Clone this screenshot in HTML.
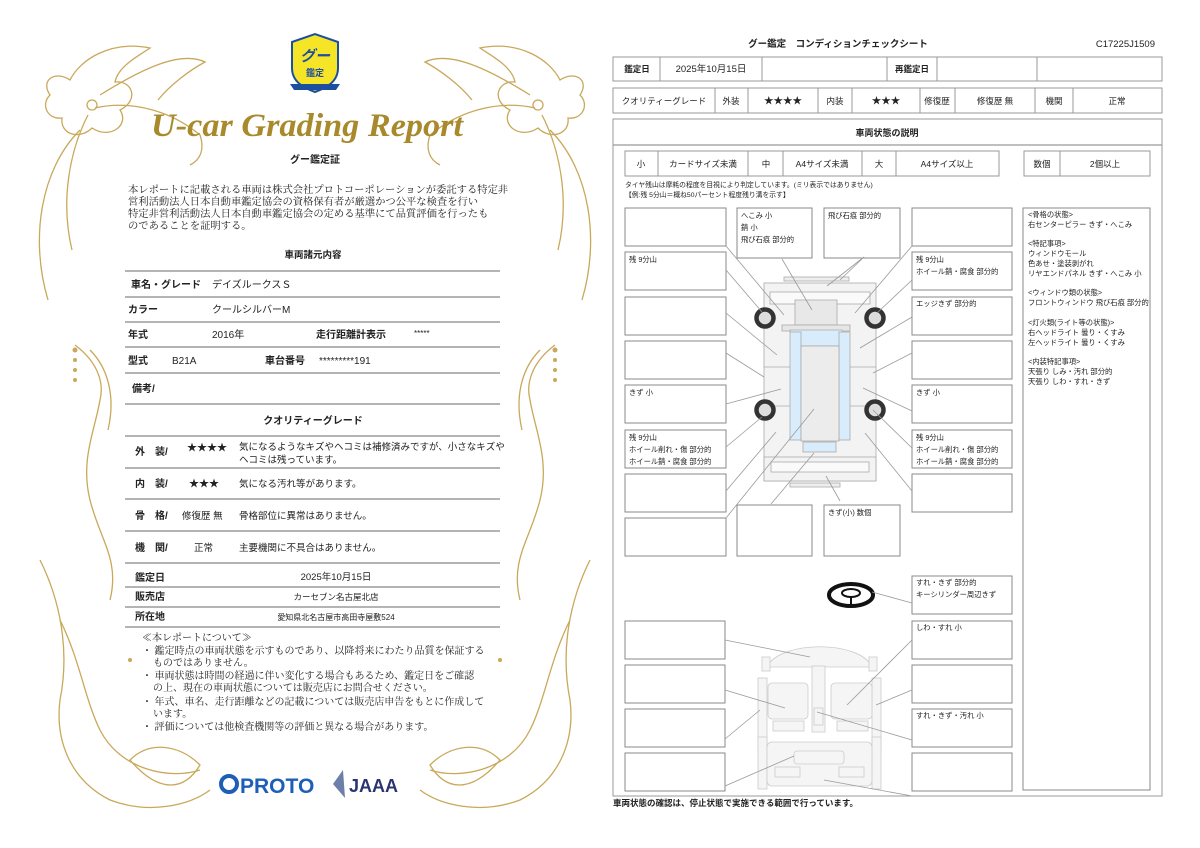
<!DOCTYPE html>
<html><head><meta charset="utf-8"><style>
html,body{margin:0;padding:0;background:#fff;}
svg{display:block}
text{font-family:"Liberation Sans","Noto Sans CJK JP",sans-serif;fill:#222}
.m{font-family:"Liberation Serif","Noto Serif CJK JP","Noto Serif CJK SC",serif}
.b{fill:#fff;stroke:#8a8a8a;stroke-width:1}
.t{fill:#fff;stroke:#999;stroke-width:1}
.ld{stroke:#9a9a9a;stroke-width:0.8;fill:none}
.g{stroke:#c9a85a;stroke-width:1.3;fill:none}
</style></head><body>
<svg width="1200" height="848" viewBox="0 0 1200 848" xmlns="http://www.w3.org/2000/svg">
<rect width="1200" height="848" fill="#fff"/>

<g class="g">
<path d="M150 48 C110 40 80 60 70 80 C55 70 40 80 50 95 C40 105 48 120 62 118 C60 135 80 140 92 128 C110 140 130 125 120 110 C140 100 132 80 115 82 C118 66 140 55 150 48Z"/>
<path d="M100 95 C140 70 180 50 205 62 C190 70 170 85 158 100"/>
<path d="M95 108 C130 100 170 110 200 135 C205 150 200 160 190 165"/>
<path d="M88 115 C70 150 60 200 72 250"/>
<path d="M80 130 C40 170 30 240 48 300"/>
<circle cx="92" cy="105" r="5"/>
<path d="M480 48 C520 40 550 60 560 80 C575 70 590 80 580 95 C590 105 582 120 568 118 C570 135 550 140 538 128 C520 140 500 125 510 110 C490 100 498 80 515 82 C512 66 490 55 480 48Z"/>
<path d="M530 95 C490 70 450 50 425 62 C440 70 460 85 472 100"/>
<path d="M535 108 C500 100 460 110 430 135 C425 150 430 160 440 165"/>
<path d="M542 115 C560 150 570 200 558 250"/>
<path d="M550 130 C590 170 600 240 582 300"/>
<circle cx="538" cy="105" r="5"/>
<path d="M75 345 C95 360 105 380 100 400 C95 430 80 460 90 500 C100 540 120 560 110 600"/>
<path d="M90 350 C110 370 115 400 108 430"/>
<path d="M555 345 C535 360 525 380 530 400 C535 430 550 460 540 500 C530 540 510 560 520 600"/>
<path d="M540 350 C520 370 515 400 522 430"/>
<path d="M40 560 C60 600 70 650 60 700 C55 740 70 780 110 800 C150 815 190 805 210 790"/>
<path d="M60 620 C80 660 85 700 100 730 C120 770 170 780 200 770"/>
<path d="M590 560 C570 600 560 650 570 700 C575 740 560 780 520 800 C480 815 440 805 420 790"/>
<path d="M570 620 C550 660 545 700 530 730 C510 770 460 780 430 770"/>
<path d="M130 760 C150 740 180 745 200 765 C185 790 160 795 130 760Z"/>
<path d="M500 760 C480 740 450 745 430 765 C445 790 470 795 500 760Z"/>
</g>
<g fill="#c9a85a">
<circle cx="75" cy="350" r="2.5"/><circle cx="75" cy="360" r="2"/><circle cx="75" cy="370" r="2"/><circle cx="75" cy="380" r="2"/>
<circle cx="555" cy="350" r="2.5"/><circle cx="555" cy="360" r="2"/><circle cx="555" cy="370" r="2"/><circle cx="555" cy="380" r="2"/>
<circle cx="130" cy="660" r="2"/><circle cx="500" cy="660" r="2"/>
</g>

<path d="M292 42 L315 34 L338 42 L338 68 C338 82 326 88 315 92 C304 88 292 82 292 68Z" fill="#f6e526" stroke="#1d4fa0" stroke-width="2"/>
<text x="315" y="61" text-anchor="middle" font-size="15" font-weight="bold" style="fill:#1d4fa0" font-style="italic">グー</text>
<text x="315" y="76" text-anchor="middle" font-size="9" font-weight="bold" style="fill:#1d4fa0">鑑定</text>
<path d="M290 84 L340 84 L336 90 L294 90Z" fill="#1d4fa0"/>

<text x="307" y="136" text-anchor="middle" font-size="33" font-style="italic" font-weight="bold" textLength="312" lengthAdjust="spacingAndGlyphs" style="fill:#a88a2c;font-family:'Liberation Serif',serif">U-car Grading Report</text>
<text x="315" y="163" text-anchor="middle" font-size="10" font-weight="bold">グー鑑定証</text>
<g font-size="10.3">
<text x="128" y="193" class="m">本レポートに記載される車両は株式会社プロトコーポレーションが委託する特定非</text>
<text x="128" y="205" class="m">営利活動法人日本自動車鑑定協会の資格保有者が厳選かつ公平な検査を行い</text>
<text x="128" y="217" class="m">特定非営利活動法人日本自動車鑑定協会の定める基準にて品質評価を行ったも</text>
<text x="128" y="229" class="m">のであることを証明する。</text>
</g>
<text x="313" y="258" text-anchor="middle" font-size="9.5" font-weight="bold">車両諸元内容</text>
<g stroke="#888" stroke-width="1.2">
<line x1="125" y1="271" x2="500" y2="271"/><line x1="125" y1="297" x2="500" y2="297"/>
<line x1="125" y1="322" x2="500" y2="322"/><line x1="125" y1="347" x2="500" y2="347"/>
<line x1="125" y1="373" x2="500" y2="373"/><line x1="125" y1="404" x2="500" y2="404"/>
<line x1="125" y1="436" x2="500" y2="436"/><line x1="125" y1="468" x2="500" y2="468"/>
<line x1="125" y1="499" x2="500" y2="499"/><line x1="125" y1="531" x2="500" y2="531"/>
<line x1="125" y1="563" x2="500" y2="563"/><line x1="125" y1="587" x2="500" y2="587"/>
<line x1="125" y1="607" x2="500" y2="607"/><line x1="125" y1="627" x2="500" y2="627"/>
</g>
<g font-size="10">
<text x="131" y="288" font-weight="bold">車名・グレード</text><text x="212" y="288">デイズルークスＳ</text>
<text x="128" y="313" font-weight="bold">カラー</text><text x="212" y="313">クールシルバーM</text>
<text x="128" y="338" font-weight="bold">年式</text><text x="212" y="338">2016年</text><text x="316" y="338" font-weight="bold">走行距離計表示</text><text x="414" y="336" font-size="8">*****</text>
<text x="128" y="364" font-weight="bold">型式</text><text x="172" y="364">B21A</text><text x="265" y="364" font-weight="bold">車台番号</text><text x="319" y="364">*********191</text>
<text x="132" y="392" font-weight="bold">備考/</text>
<text x="313" y="424" text-anchor="middle" font-weight="bold">クオリティーグレード</text>
<text x="135" y="455" font-weight="bold">外　装/</text><text x="187" y="451">★★★★</text>
<text x="239" y="450" font-size="9.5">気になるようなキズやヘコミは補修済みですが、小さなキズや</text>
<text x="239" y="463" font-size="9.5">ヘコミは残っています。</text>
<text x="135" y="487" font-weight="bold">内　装/</text><text x="189" y="487">★★★</text><text x="239" y="487" font-size="9.5">気になる汚れ等があります。</text>
<text x="135" y="519" font-weight="bold">骨　格/</text><text x="182" y="519" font-size="9.5">修復歴 無</text><text x="239" y="519" font-size="9.5">骨格部位に異常はありません。</text>
<text x="135" y="551" font-weight="bold">機　関/</text><text x="194" y="551" font-size="9.5">正常</text><text x="239" y="551" font-size="9.5">主要機関に不具合はありません。</text>
<text x="135" y="581" font-weight="bold">鑑定日</text><text x="336" y="580" text-anchor="middle" font-size="9.5">2025年10月15日</text>
<text x="135" y="600" font-weight="bold">販売店</text><text x="336" y="600" text-anchor="middle" font-size="8.5">カーセブン名古屋北店</text>
<text x="135" y="620" font-weight="bold">所在地</text><text x="336" y="620" text-anchor="middle" font-size="8">愛知県北名古屋市高田寺屋敷524</text>
</g>
<g font-size="10">
<text x="142" y="641" class="m">≪本レポートについて≫</text>
<text x="142" y="654" class="m">・ 鑑定時点の車両状態を示すものであり、以降将来にわたり品質を保証する</text>
<text x="153" y="666" class="m">ものではありません。</text>
<text x="142" y="679" class="m">・ 車両状態は時間の経過に伴い変化する場合もあるため、鑑定日をご確認</text>
<text x="153" y="691" class="m">の上、現在の車両状態については販売店にお問合せください。</text>
<text x="142" y="705" class="m">・ 年式、車名、走行距離などの記載については販売店申告をもとに作成して</text>
<text x="153" y="717" class="m">います。</text>
<text x="142" y="730" class="m">・ 評価については他検査機関等の評価と異なる場合があります。</text>
</g>
<circle cx="229" cy="784" r="8" fill="none" stroke="#1d5fb8" stroke-width="4"/>
<text x="240" y="793" font-size="21" font-weight="bold" style="fill:#1d5fb8">PROTO</text>
<path d="M333 784 L343 770 L345 798Z" fill="#6b7fa8"/>
<text x="349" y="792" font-size="18" font-weight="bold" style="fill:#2a3470">JAAA</text>

<text x="838" y="47" text-anchor="middle" font-size="9.5" font-weight="bold">グー鑑定　コンディションチェックシート</text>
<text x="1155" y="47" text-anchor="end" font-size="9.5">C17225J1509</text>

<rect x="613" y="57" width="549" height="24" class="t" stroke-width="1.5"/>
<g stroke="#999"><line x1="660" y1="57" x2="660" y2="81"/><line x1="762" y1="57" x2="762" y2="81"/><line x1="887" y1="57" x2="887" y2="81"/><line x1="937" y1="57" x2="937" y2="81"/><line x1="1037" y1="57" x2="1037" y2="81"/></g>
<g font-size="8.5"><text x="637" y="72" text-anchor="middle" font-weight="bold">鑑定日</text><text x="711" y="72" text-anchor="middle" font-size="9.5">2025年10月15日</text><text x="912" y="72" text-anchor="middle" font-weight="bold">再鑑定日</text></g>

<rect x="613" y="88" width="549" height="25" class="t" stroke-width="1.5"/>
<g stroke="#999"><line x1="715" y1="88" x2="715" y2="113"/><line x1="748" y1="88" x2="748" y2="113"/><line x1="818" y1="88" x2="818" y2="113"/><line x1="852" y1="88" x2="852" y2="113"/><line x1="920" y1="88" x2="920" y2="113"/><line x1="955" y1="88" x2="955" y2="113"/><line x1="1035" y1="88" x2="1035" y2="113"/><line x1="1073" y1="88" x2="1073" y2="113"/></g>
<g font-size="8.5" text-anchor="middle"><text x="664" y="104">クオリティーグレード</text><text x="731" y="104">外装</text><text x="783" y="104" font-size="9.5">★★★★</text><text x="835" y="104">内装</text><text x="886" y="104" font-size="9.5">★★★</text><text x="937" y="104">修復歴</text><text x="995" y="104">修復歴 無</text><text x="1054" y="104">機関</text><text x="1117" y="104">正常</text></g>

<rect x="613" y="119" width="549" height="677" class="t" stroke-width="1.5"/>
<line x1="613" y1="145" x2="1162" y2="145" stroke="#999" stroke-width="1.2"/>
<text x="887" y="136" text-anchor="middle" font-size="9" font-weight="bold">車両状態の説明</text>

<rect x="625" y="151" width="374" height="25" class="t"/>
<g stroke="#999"><line x1="658" y1="151" x2="658" y2="176"/><line x1="748" y1="151" x2="748" y2="176"/><line x1="783" y1="151" x2="783" y2="176"/><line x1="862" y1="151" x2="862" y2="176"/><line x1="896" y1="151" x2="896" y2="176"/></g>
<rect x="1024" y="151" width="126" height="25" class="t"/>
<line x1="1060" y1="151" x2="1060" y2="176" stroke="#999"/>
<g font-size="8.5" text-anchor="middle"><text x="641" y="167">小</text><text x="703" y="167">カードサイズ未満</text><text x="766" y="167">中</text><text x="822" y="167">A4サイズ未満</text><text x="879" y="167">大</text><text x="947" y="167">A4サイズ以上</text><text x="1042" y="167">数個</text><text x="1105" y="167">2個以上</text></g>
<text x="625" y="187" font-size="6.8">タイヤ残山は摩耗の程度を目視により判定しています。(ミリ表示ではありません)</text>
<text x="625" y="197" font-size="6.8">【例:残 5分山＝概ね50パーセント程度残り溝を示す】</text>

<g>
<rect x="625" y="208" width="101" height="38" class="b"/><rect x="625" y="252" width="101" height="38" class="b"/>
<rect x="625" y="297" width="101" height="38" class="b"/><rect x="625" y="341" width="101" height="38" class="b"/>
<rect x="625" y="385" width="101" height="38" class="b"/><rect x="625" y="430" width="101" height="38" class="b"/>
<rect x="625" y="474" width="101" height="38" class="b"/><rect x="625" y="518" width="101" height="38" class="b"/>
<rect x="737" y="208" width="75" height="50" class="b"/><rect x="824" y="208" width="76" height="50" class="b"/>
<rect x="737" y="505" width="75" height="51" class="b"/><rect x="824" y="505" width="76" height="51" class="b"/>
<rect x="912" y="208" width="100" height="38" class="b"/><rect x="912" y="252" width="100" height="38" class="b"/>
<rect x="912" y="297" width="100" height="38" class="b"/><rect x="912" y="341" width="100" height="38" class="b"/>
<rect x="912" y="385" width="100" height="38" class="b"/><rect x="912" y="430" width="100" height="38" class="b"/>
<rect x="912" y="474" width="100" height="38" class="b"/>
<rect x="1023" y="208" width="127" height="582" class="b"/>
<rect x="912" y="576" width="100" height="38" class="b"/>
<rect x="625" y="621" width="100" height="38" class="b"/><rect x="625" y="665" width="100" height="38" class="b"/>
<rect x="625" y="709" width="100" height="38" class="b"/><rect x="625" y="753" width="100" height="38" class="b"/>
<rect x="912" y="621" width="100" height="38" class="b"/><rect x="912" y="665" width="100" height="38" class="b"/>
<rect x="912" y="709" width="100" height="38" class="b"/><rect x="912" y="753" width="100" height="38" class="b"/>
</g>
<g font-size="7.3">
<text x="741" y="218">へこみ 小</text><text x="741" y="230">錆 小</text><text x="741" y="242">飛び石痕 部分的</text>
<text x="828" y="218">飛び石痕 部分的</text>
<text x="629" y="262">残 9分山</text>
<text x="629" y="395">きず 小</text>
<text x="629" y="440">残 9分山</text><text x="629" y="452">ホイール削れ・傷 部分的</text><text x="629" y="464">ホイール錆・腐食 部分的</text>
<text x="828" y="515">きず(小) 数個</text>
<text x="916" y="262">残 9分山</text><text x="916" y="274">ホイール錆・腐食 部分的</text>
<text x="916" y="306">エッジきず 部分的</text>
<text x="916" y="395">きず 小</text>
<text x="916" y="440">残 9分山</text><text x="916" y="452">ホイール削れ・傷 部分的</text><text x="916" y="464">ホイール錆・腐食 部分的</text>
<text x="916" y="585">すれ・きず 部分的</text><text x="916" y="597">キーシリンダー周辺きず</text>
<text x="916" y="630">しわ・すれ 小</text>
<text x="916" y="718">すれ・きず・汚れ 小</text>
</g>
<g font-size="7.3">
<text x="1028" y="217">&lt;骨格の状態&gt;</text><text x="1028" y="227">右センターピラー きず・へこみ</text>
<text x="1028" y="246">&lt;特記事項&gt;</text><text x="1028" y="256">ウィンドウモール</text><text x="1028" y="266">色あせ・塗装剥がれ</text><text x="1028" y="276">リヤエンドパネル きず・へこみ 小</text>
<text x="1028" y="295">&lt;ウィンドウ類の状態&gt;</text><text x="1028" y="305">フロントウィンドウ 飛び石痕 部分的</text>
<text x="1028" y="325">&lt;灯火類(ライト等の状態)&gt;</text><text x="1028" y="335">右ヘッドライト 曇り・くすみ</text><text x="1028" y="345">左ヘッドライト 曇り・くすみ</text>
<text x="1028" y="364">&lt;内装特記事項&gt;</text><text x="1028" y="374">天張り しみ・汚れ 部分的</text><text x="1028" y="384">天張り しわ・すれ・きず</text>
</g>

<g stroke="#aaa" stroke-width="0.8">
<rect x="784" y="277" width="65" height="4" fill="#eee"/>
<rect x="764" y="283" width="112" height="198" fill="#f3f3f3"/>
<rect x="770" y="292" width="100" height="12" fill="#fafafa"/>
<rect x="795" y="300" width="42" height="25" fill="#e8e8e8"/>
<rect x="782" y="325" width="68" height="6" fill="#e6e6e6"/>
<path d="M790 330 L842 330 L848 342 L838 346 L802 346 L792 342Z" fill="#d8ecfb"/>
<rect x="790" y="332" width="11" height="108" fill="#d8ecfb"/>
<rect x="839" y="332" width="11" height="108" fill="#d8ecfb"/>
<rect x="801" y="346" width="38" height="95" fill="#ececec"/>
<rect x="803" y="442" width="33" height="10" fill="#d8ecfb"/>
<rect x="764" y="457" width="112" height="24" fill="#f3f3f3"/>
<rect x="771" y="462" width="98" height="10" fill="#fafafa"/>
<rect x="790" y="483" width="50" height="4" fill="#eee"/>
<line x1="764" y1="367" x2="790" y2="367"/><line x1="850" y1="367" x2="876" y2="367"/>
<line x1="764" y1="406" x2="790" y2="406"/><line x1="850" y1="406" x2="876" y2="406"/>
</g>
<g fill="#ddd" stroke="#333" stroke-width="4.5">
<circle cx="765" cy="318" r="8.5"/><circle cx="875" cy="318" r="8.5"/>
<circle cx="765" cy="410" r="8.5"/><circle cx="875" cy="410" r="8.5"/>
</g>
<g class="ld">
<line x1="726" y1="246" x2="784" y2="315"/><line x1="726" y1="270" x2="762" y2="312"/>
<line x1="726" y1="313" x2="777" y2="355"/><line x1="726" y1="353" x2="764" y2="377"/>
<line x1="726" y1="404" x2="781" y2="389"/><line x1="726" y1="447" x2="762" y2="417"/>
<line x1="726" y1="491" x2="776" y2="432"/><line x1="726" y1="518" x2="814" y2="409"/>
<line x1="782" y1="259" x2="812" y2="310"/><line x1="864" y1="257" x2="827" y2="286"/><line x1="864" y1="257" x2="840" y2="280"/>
<line x1="912" y1="246" x2="855" y2="313"/><line x1="912" y1="280" x2="877" y2="313"/>
<line x1="912" y1="317" x2="860" y2="348"/><line x1="912" y1="353" x2="873" y2="373"/>
<line x1="912" y1="411" x2="863" y2="388"/><line x1="912" y1="448" x2="873" y2="410"/>
<line x1="912" y1="491" x2="865" y2="433"/>
<line x1="771" y1="504" x2="814" y2="453"/><line x1="840" y1="501" x2="826" y2="476"/>
</g>

<ellipse cx="851" cy="595" rx="22" ry="11" fill="none" stroke="#111" stroke-width="4"/>
<ellipse cx="851" cy="593" rx="9" ry="4" fill="none" stroke="#111" stroke-width="2"/>
<line x1="851" y1="597" x2="851" y2="606" stroke="#111" stroke-width="2"/>
<line x1="872" y1="592" x2="912" y2="603" class="ld"/>

<g stroke="#ccc" stroke-width="0.8" fill="#f5f5f5">
<path d="M767 667 C780 640 860 640 872 667Z"/>
<rect x="762" y="657" width="8" height="14"/><rect x="869" y="657" width="8" height="14"/>
<rect x="758" y="678" width="9" height="72"/><rect x="872" y="678" width="9" height="72"/>
<rect x="768" y="683" width="40" height="36" rx="4"/><rect x="831" y="683" width="41" height="36" rx="4"/>
<rect x="773" y="721" width="31" height="10"/><rect x="837" y="721" width="31" height="10"/>
<rect x="812" y="666" width="13" height="66"/>
<rect x="814" y="708" width="9" height="17"/>
<rect x="758" y="737" width="9" height="52"/><rect x="872" y="737" width="9" height="52"/>
<rect x="767" y="742" width="105" height="44" rx="5"/>
<rect x="794" y="751" width="50" height="13" rx="3"/>
<rect x="775" y="767" width="25" height="10"/><rect x="839" y="767" width="25" height="10"/>
</g>
<g class="ld">
<line x1="725" y1="640" x2="810" y2="657"/><line x1="725" y1="690" x2="785" y2="708"/>
<line x1="725" y1="739" x2="760" y2="710"/><line x1="725" y1="786" x2="794" y2="756"/>
<line x1="912" y1="640" x2="847" y2="705"/><line x1="912" y1="690" x2="876" y2="705"/>
<line x1="912" y1="740" x2="817" y2="712"/><line x1="912" y1="796" x2="824" y2="780"/>
</g>
<text x="613" y="806" font-size="8.5" font-weight="bold">車両状態の確認は、停止状態で実施できる範囲で行っています。</text>
</svg>
</body></html>
